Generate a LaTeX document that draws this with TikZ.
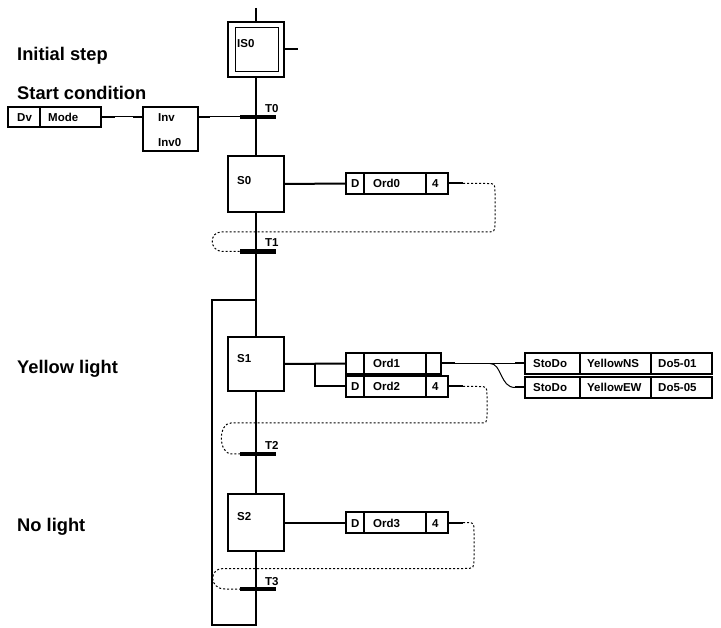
\documentclass[tikz,border=0pt]{standalone}
\usepackage{fontspec}
\setmainfont{Liberation Sans}
\begin{document}
\begin{tikzpicture}[x=1pt,y=-1pt,
  box/.style={draw, line width=2pt, inner sep=0pt, outer sep=0pt},
  inbox/.style={draw, line width=1pt, inner sep=0pt, outer sep=0pt},
  lbl/.style={font=\bfseries\fontsize{11.5}{13}\selectfont, anchor=base west, inner sep=0pt},
  big/.style={font=\bfseries\fontsize{18.3}{21}\selectfont, anchor=base west, inner sep=0pt},
  wire/.style={line width=2pt},
  thinwire/.style={line width=1pt},
  dwire/.style={line width=1pt, dash pattern=on 2pt off 2pt},
  bar/.style={fill=black, inner sep=0pt, outer sep=0pt, minimum width=36, minimum height=4.5}
]
\useasboundingbox (0,0) rectangle (721,628);

% steps
\node[box, minimum width=56, minimum height=55] (is0) at (256,49.5) {};
\node[inbox, minimum width=43, minimum height=44] (is0in) at (256.5,50) {};
\node[box, minimum width=56, minimum height=56] (s0) at (256,184) {};
\node[box, minimum width=56, minimum height=54] (s1) at (256,364) {};
\node[box, minimum width=56, minimum height=57] (s2) at (256,522.5) {};

% transitions
\node[bar] (t0) at (258,117) {};
\node[bar] (t1) at (258,251.5) {};
\node[bar] (t2) at (258,454) {};
\node[bar] (t3) at (258,589) {};

% condition boxes
\node[box, minimum width=93, minimum height=20] (dv) at (54.5,117) {};
\draw[wire] (dv.north west) ++(32,0) -- ++(0,20);
\node[box, minimum width=55, minimum height=44] (inv) at (170.5,129) {};

% action boxes
\node[box, minimum width=102, minimum height=21] (ord0) at (397,183.5) {};
\node[box, minimum width=95, minimum height=21] (ord1) at (393.5,363.5) {};
\node[box, minimum width=102, minimum height=21] (ord2) at (397,386.5) {};
\node[box, minimum width=102, minimum height=21] (ord3) at (397,522.5) {};
\foreach \b in {ord0,ord1,ord2,ord3}{
  \draw[wire] (\b.north west) ++(18,0) -- ++(0,21);
  \draw[wire] (\b.north west) ++(80,0) -- ++(0,21);
}
\node[box, minimum width=187, minimum height=21] (sto1) at (618.5,363.5) {};
\node[box, minimum width=187, minimum height=21] (sto2) at (618.5,387.5) {};
\foreach \b in {sto1,sto2}{
  \draw[wire] (\b.north west) ++(55,0) -- ++(0,21);
  \draw[wire] (\b.north west) ++(126,0) -- ++(0,21);
}

% main line
\coordinate (top) at (256,8);
\coordinate (is0r) at (298,49.5);
\coordinate (lb) at (256,625);
\coordinate (ll) at (212,625);
\coordinate (lt) at (212,300);
\coordinate (jn) at (256,300);
\draw[wire] (top) -- (is0.north);
\draw[wire] (is0.east) -- (is0r);
\draw[wire] (is0.south) -- (s0.north);
\draw[wire] (s0.south) -- (s1.north);
\draw[wire] (s1.south) -- (s2.north);
\draw[wire] (s2.south) -- (lb) -- (ll) -- (lt) -- (jn);
\node[bar] at (t0) {};
\node[bar] at (t1) {};
\node[bar] at (t2) {};
\node[bar] at (t3) {};

% condition links
\draw[thinwire] (dv.east) -- (dv.east -| inv.west);
\draw[wire] (dv.east) -- ++(14,0);
\draw[wire] (dv.east -| inv.west) -- ++(-10,0);
\draw[thinwire] (t0.west -| inv.east) -- (t0.west);
\draw[wire] (t0.west -| inv.east) -- ++(12,0);

% action links
\draw[wire] (s0.east) -- (ord0.west);
\draw[wire] (s1.east) -- (ord1.west);
\coordinate (br) at (315,363.5);
\draw[wire] (br) |- (ord2.west);
\draw[wire] (s2.east) -- (ord3.west);

\coordinate (e0) at (463,183.5);
\coordinate (e2) at (463,386.5);
\coordinate (e3) at (463,522.5);
\draw[wire] (ord0.east) -- (e0);
\draw[wire] (ord2.east) -- (e2);
\draw[wire] (ord3.east) -- (e3);

\coordinate (sp) at (490,363.5);
\coordinate (sp2) at (515,387.5);
\draw[thinwire] (ord1.east) -- (sto1.west);
\draw[wire] (ord1.east) -- ++(14,0);
\draw[wire] (sto1.west) -- ++(-10,0);
\draw[thinwire] (sp) .. controls (502,363.5) and (500,387.5) .. (sp2) -- (sto2.west);
\draw[wire] (sto2.west) -- ++(-10,0);

% dashed timer links
\draw[dwire] (e0) -- (487,183.5) .. controls (495,183.5) .. (495,193) -- (495,222)
  .. controls (495,232) .. (485,232) -- (221,232)
  .. controls (209,232) and (209,251.5) .. (223,251.5) -- (t1.west);
\draw[dwire] (e2) -- (478,386.5) .. controls (487,386.5) .. (487,396) -- (487,414)
  .. controls (487,423) .. (478,423) -- (231,423)
  .. controls (218,423) and (218,454) .. (232,454) -- (t2.west);
\draw[dwire] (e3) -- (466,522.5) .. controls (474,522.5) .. (474,532) -- (474,558)
  .. controls (474,568.5) .. (464,568.5) -- (223,568.5)
  .. controls (209,568.5) and (209,589) .. (225,589) -- (t3.west);

% labels
\node[big] (l1) at (17,61) {Initial step};
\node[big] (l2) at (17,100) {Start condition};
\node[big] (l3) at (17,374) {Yellow light};
\node[big] (l4) at (17,532) {No light};

\node[lbl] (tis0) at (237,48) {IS0};
\node[lbl] (ts0) at (237,185) {S0};
\node[lbl] (ts1) at (237,363) {S1};
\node[lbl] (ts2) at (237,521) {S2};
\node[lbl] (tt0) at (265,113) {T0};
\node[lbl] (tt1) at (265,247) {T1};
\node[lbl] (tt2) at (265,450) {T2};
\node[lbl] (tt3) at (265,585) {T3};

\node[lbl] (tdv) at (17,122) {Dv};
\node[lbl] (tmode) at (48,122) {Mode};
\node[lbl] (tinv) at (158,122) {Inv};
\node[lbl] (tinv0) at (158,147) {Inv0};

\node[lbl] (a0d) at (351,188) {D};
\node[lbl] (a0n) at (373,188) {Ord0};
\node[lbl] (a0t) at (432,188) {4};
\node[lbl] (a1n) at (373,368) {Ord1};
\node[lbl] (a2d) at (351,391) {D};
\node[lbl] (a2n) at (373,391) {Ord2};
\node[lbl] (a2t) at (432,391) {4};
\node[lbl] (a3d) at (351,527) {D};
\node[lbl] (a3n) at (373,527) {Ord3};
\node[lbl] (a3t) at (432,527) {4};

\node[lbl] (b1a) at (533,368) {StoDo};
\node[lbl] (b1b) at (587,368) {YellowNS};
\node[lbl] (b1c) at (658,368) {Do5-01};
\node[lbl] (b2a) at (533,392) {StoDo};
\node[lbl] (b2b) at (587,392) {YellowEW};
\node[lbl] (b2c) at (658,392) {Do5-05};
\end{tikzpicture}
\end{document}
